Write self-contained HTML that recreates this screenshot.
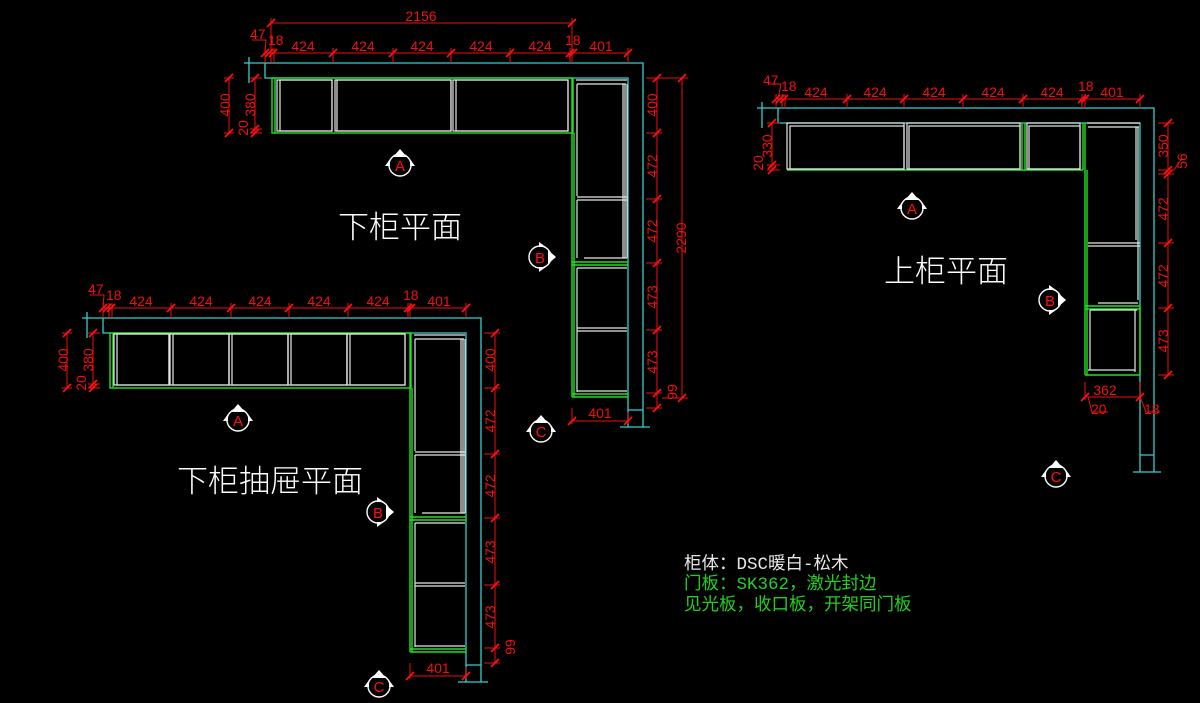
<!DOCTYPE html>
<html><head><meta charset="utf-8"><style>
html,body{margin:0;padding:0;background:#000;}
svg{display:block}
.d{font-family:"Liberation Sans",sans-serif;font-size:14px;fill:#f01010}
.t{font-family:"Liberation Sans","Noto Sans CJK SC",sans-serif;font-size:31px;fill:#fff;font-weight:300}
.m{font-family:"Liberation Mono","Noto Sans CJK SC",monospace;font-size:17.5px}
.lt{font-family:"Liberation Sans",sans-serif;font-size:15px;fill:#ff1010}
</style></head><body>
<svg width="1200" height="703" viewBox="0 0 1200 703" xmlns="http://www.w3.org/2000/svg">
<defs>
<g id="mk">
<circle cx="0" cy="0" r="11" fill="none" stroke="#fff" stroke-width="1.4"/>
<polygon points="-7,-8 0,-16 7,-8" fill="#fff"/>
<polygon points="-15,1 -10,-6 -10,1" fill="#fff"/>
<polygon points="15,1 10,-6 10,1" fill="#fff"/>
</g>
<g id="tk"><line x1="-4" y1="4" x2="4" y2="-4" stroke="#ff1010" stroke-width="1.7"/></g>

<g id="L">
<g stroke="#33d0d0" stroke-width="1.3" fill="none">
<path d="M249,57 V83 M244,63 H643 V427 M265,63 V78 H628 V427 M628,410 H643 M620,427 H650"/>
</g>
<g stroke="#22e022" stroke-width="1.4" fill="none">
<rect x="272" y="78" width="301" height="55"/>
<path d="M275,78 V133 M572,78 V397 M574,133 V397 M572,397 H628 M572,394 H628 M572,262 H628 M572,265 H628"/>
</g>
<g stroke="#e8e8e8" stroke-width="1.2" fill="none">
<path d="M576,80 H627 M577,84 H626 M577,84 V196 M625,84 V258 M627,84 V258 M577,197 H627 M577,200 H627 M577,200 V258 M584,258 H627 M577,268 H627 M577,268 V392 M577,328 H627 M577,331 H627 M577,391 H627 M623,84 V258"/>
</g>
<g stroke="#f01010" stroke-width="1" fill="none">
<path d="M657,78 V408 M646,78 H662 M646,133 H662 M646,199 H662 M646,263 H662 M646,330 H662 M646,393 H662 M646,408 H662"/>
<path d="M572,408 V424 M628,412 V424 M572,421 H628"/>
<path d="M229,78 V133 M224,78 H234 M224,133 H234 M255,78 V133 M250,78 H262 M250,129 H262 M250,133 H262"/>
<path d="M265,53 H628 M265,48 V63 M271,48 V63 M274,48 V63 M333,48 V63 M393,48 V63 M451,48 V63 M510,48 V63 M570,48 V63 M572,48 V63 M628,48 V63"/>
<path d="M252,40 H266 L265,53"/>
</g>
<use href="#tk" x="657" y="78"/><use href="#tk" x="657" y="133"/><use href="#tk" x="657" y="199"/><use href="#tk" x="657" y="263"/><use href="#tk" x="657" y="330"/><use href="#tk" x="657" y="393"/><use href="#tk" x="657" y="408"/>
<use href="#tk" x="572" y="421"/><use href="#tk" x="628" y="421"/>
<use href="#tk" x="229" y="78"/><use href="#tk" x="229" y="133"/><use href="#tk" x="255" y="78"/><use href="#tk" x="255" y="129"/><use href="#tk" x="255" y="133"/>
<use href="#tk" x="265" y="53"/><use href="#tk" x="269" y="53"/><use href="#tk" x="273" y="53"/><use href="#tk" x="333" y="53"/><use href="#tk" x="393" y="53"/><use href="#tk" x="451" y="53"/><use href="#tk" x="510" y="53"/><use href="#tk" x="570" y="53"/><use href="#tk" x="573" y="53"/><use href="#tk" x="628" y="53"/>
<g class="d">
<text x="303" y="51" text-anchor="middle">424</text><text x="363" y="51" text-anchor="middle">424</text><text x="422" y="51" text-anchor="middle">424</text><text x="481" y="51" text-anchor="middle">424</text><text x="540" y="51" text-anchor="middle">424</text>
<text x="601" y="51" text-anchor="middle">401</text><text x="268" y="45">18</text><text x="565" y="45">18</text><text x="250" y="39">47</text>
<text x="600" y="418" text-anchor="middle">401</text>
<text transform="translate(657,105) rotate(-90)" text-anchor="middle">400</text>
<text transform="translate(657,166) rotate(-90)" text-anchor="middle">472</text>
<text transform="translate(657,231) rotate(-90)" text-anchor="middle">472</text>
<text transform="translate(657,297) rotate(-90)" text-anchor="middle">473</text>
<text transform="translate(657,362) rotate(-90)" text-anchor="middle">473</text>
<text transform="translate(677,392) rotate(-90)" text-anchor="middle">99</text>
<text transform="translate(230,105) rotate(-90)" text-anchor="middle">400</text>
<text transform="translate(255,105) rotate(-90)" text-anchor="middle">380</text>
<text transform="translate(248,128) rotate(-90)" text-anchor="middle">20</text>
</g>
<use href="#mk" x="400" y="165"/><text x="400" y="171" class="lt" text-anchor="middle">A</text>
<use href="#mk" transform="translate(540,257) rotate(90)"/><text x="540" y="263" class="lt" text-anchor="middle">B</text>
<use href="#mk" x="541" y="431"/><text x="541" y="437" class="lt" text-anchor="middle">C</text>
</g>
</defs>

<use href="#L"/>
<g stroke="#e8e8e8" stroke-width="1.2" fill="none">
<rect x="277" y="80" width="55" height="51"/><rect x="280" y="80" width="52" height="51"/>
<rect x="337" y="80" width="114" height="51"/><rect x="335" y="80" width="116" height="51"/>
<rect x="453" y="80" width="115" height="51"/><rect x="456" y="80" width="112" height="51"/>
</g>
<g stroke="#f01010" stroke-width="1" fill="none"><path d="M271,23 H572 M271,18 V50 M572,18 V50 M682,78 V398 M662,78 H688 M662,398 H688"/></g>
<use href="#tk" x="271" y="23"/><use href="#tk" x="572" y="23"/><use href="#tk" x="682" y="78"/><use href="#tk" x="682" y="398"/>
<text x="421" y="21" class="d" text-anchor="middle">2156</text>
<text transform="translate(686,238) rotate(-90)" class="d" text-anchor="middle">2290</text>
<text x="338" y="238" class="t">下柜平面</text>

<use href="#L" transform="translate(-162,255)"/>
<g stroke="#e8e8e8" stroke-width="1.2" fill="none">
<rect x="114" y="334" width="55" height="51"/><rect x="173" y="334" width="56" height="51"/><rect x="232" y="334" width="56" height="51"/><rect x="291" y="334" width="56" height="51"/><rect x="350" y="334" width="55" height="51"/>
<rect x="117" y="334" width="52" height="51"/><rect x="170" y="334" width="59" height="51"/><rect x="229" y="334" width="59" height="51"/><rect x="288" y="334" width="59" height="51"/><rect x="347" y="334" width="58" height="51"/>
</g>
<text x="177" y="492" class="t">下柜抽屉平面</text>

<g stroke="#33d0d0" stroke-width="1.3" fill="none">
<path d="M762,102 V128 M757,108 H1154 V472 M778,108 V123 H1140 V472 M1140,455 H1154 M1133,472 H1161"/>
</g>
<g stroke="#22e022" stroke-width="1.4" fill="none">
<path d="M787,170 H1083 M1022,123 V170 M1025,123 V170 M1083,123 V170 M1085,123 V375 M1087,170 V375 M1085,375 H1140 M1085,306 H1140 M1085,309 H1140 M1140,306 V375"/>
</g>
<g stroke="#e8e8e8" stroke-width="1.2" fill="none">
<rect x="787" y="123" width="117" height="46"/><rect x="790" y="126" width="114" height="43"/>
<rect x="907" y="123" width="113" height="46"/><rect x="909" y="126" width="111" height="43"/>
<rect x="1027" y="123" width="53" height="46"/><rect x="1029" y="126" width="51" height="43"/>
<path d="M1087,123 H1140 M1088,127 H1139 M1136,127 V240 M1138,127 V300 M1088,243 H1140 M1088,246 H1140 M1098,303 H1138 M1090,310 H1137 M1090,310 V370 M1135,310 V372 M1088,370 H1135"/>
</g>
<g stroke="#f01010" stroke-width="1" fill="none">
<path d="M776,99 H1140 M776,94 V108 M782,94 V108 M785,94 V108 M847,94 V108 M904,94 V108 M963,94 V108 M1023,94 V108 M1082,94 V108 M1085,94 V108 M1140,94 V108"/>
<path d="M769,84 H781 L778,99"/>
<path d="M772,123 V170 M767,123 H780 M767,165 H780 M767,170 H780"/>
<path d="M1168,123 V375 M1158,123 H1174 M1158,170 H1174 M1158,174 H1174 M1158,243 H1174 M1158,308 H1174 M1158,375 H1174 M1174,170 L1182,158"/>
<path d="M1085,382 V400 M1140,382 V400 M1085,397 H1140 M1088,397 L1092,412 H1108 M1140,397 L1146,412 H1160"/>
</g>
<use href="#tk" x="776" y="99"/><use href="#tk" x="780" y="99"/><use href="#tk" x="784" y="99"/><use href="#tk" x="847" y="99"/><use href="#tk" x="904" y="99"/><use href="#tk" x="963" y="99"/><use href="#tk" x="1023" y="99"/><use href="#tk" x="1082" y="99"/><use href="#tk" x="1085" y="99"/><use href="#tk" x="1140" y="99"/>
<use href="#tk" x="772" y="123"/><use href="#tk" x="772" y="165"/><use href="#tk" x="772" y="170"/>
<use href="#tk" x="1168" y="123"/><use href="#tk" x="1168" y="170"/><use href="#tk" x="1168" y="174"/><use href="#tk" x="1168" y="243"/><use href="#tk" x="1168" y="308"/><use href="#tk" x="1168" y="375"/>
<use href="#tk" x="1085" y="397"/><use href="#tk" x="1140" y="397"/>
<g class="d">
<text x="816" y="97" text-anchor="middle">424</text><text x="875" y="97" text-anchor="middle">424</text><text x="934" y="97" text-anchor="middle">424</text><text x="993" y="97" text-anchor="middle">424</text><text x="1052" y="97" text-anchor="middle">424</text>
<text x="1112" y="97" text-anchor="middle">401</text><text x="781" y="91">18</text><text x="1078" y="91">18</text><text x="763" y="85">47</text>
<text x="1105" y="395" text-anchor="middle">362</text><text x="1091" y="414">20</text><text x="1144" y="414">18</text>
<text transform="translate(772,146) rotate(-90)" text-anchor="middle">330</text>
<text transform="translate(763,163) rotate(-90)" text-anchor="middle">20</text>
<text transform="translate(1168,146) rotate(-90)" text-anchor="middle">350</text>
<text transform="translate(1187,161) rotate(-90)" text-anchor="middle">56</text>
<text transform="translate(1168,209) rotate(-90)" text-anchor="middle">472</text>
<text transform="translate(1168,276) rotate(-90)" text-anchor="middle">472</text>
<text transform="translate(1168,341) rotate(-90)" text-anchor="middle">473</text>
</g>
<use href="#mk" x="912" y="208"/><text x="912" y="214" class="lt" text-anchor="middle">A</text>
<use href="#mk" transform="translate(1050,300) rotate(90)"/><text x="1050" y="306" class="lt" text-anchor="middle">B</text>
<use href="#mk" x="1056" y="476"/><text x="1056" y="482" class="lt" text-anchor="middle">C</text>
<text x="884" y="282" class="t">上柜平面</text>

<text x="684" y="569" class="m" fill="#e8e8e8">柜体：DSC暖白-松木</text>
<text x="684" y="589" class="m" fill="#22d022">门板：SK362，激光封边</text>
<text x="684" y="610" class="m" fill="#22d022">见光板，收口板，开架同门板</text>
</svg>
</body></html>
